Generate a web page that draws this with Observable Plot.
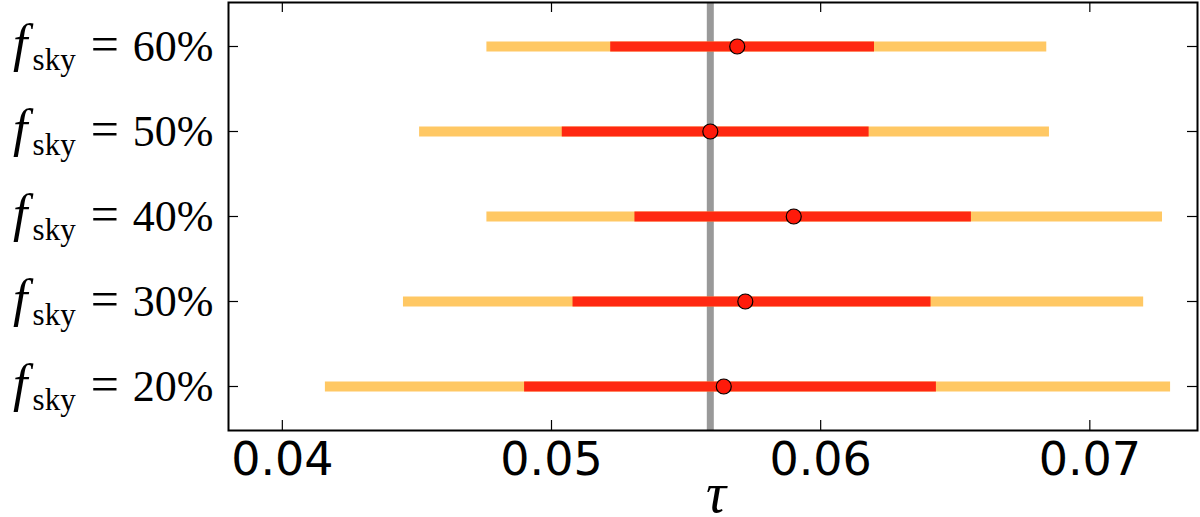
<!DOCTYPE html>
<html>
<head>
<meta charset="utf-8">
<script src="https://cdn.jsdelivr.net/npm/d3@7"></script>
<script src="https://cdn.jsdelivr.net/npm/@observablehq/plot@0.6"></script>
<style>
  html, body { margin: 0; padding: 0; background: #fff; }
</style>
</head>
<body>
<div id="chart"></div>
<script>
// ---- data ----
const skyFractions = ["60%", "50%", "40%", "30%", "20%"];
const tauBest      = [0.0569, 0.0559, 0.0590, 0.0572, 0.0564];
const tauLo68      = [0.0522, 0.0504, 0.0531, 0.0508, 0.0490];
const tauHi68      = [0.0620, 0.0618, 0.0656, 0.0641, 0.0643];
const tauLo95      = [0.0476, 0.0451, 0.0476, 0.0445, 0.0416];
const tauHi95      = [0.0684, 0.0685, 0.0727, 0.0720, 0.0730];
const tauFiducial  = [0.0559];
const xTickValues  = [0.04, 0.05, 0.06, 0.07];

const rows = skyFractions.map((f, i) => ({
  f, best: tauBest[i], lo68: tauLo68[i], hi68: tauHi68[i], lo95: tauLo95[i], hi95: tauHi95[i]
}));

const W = 1200, H = 517;
const mL = 228, mR = 3, mT = 2, mB = 87;
const innerH = H - mT - mB, innerW = W - mL - mR;
const tickLen = 10;

const chart = Plot.plot({
  width: W, height: H,
  marginLeft: mL, marginRight: mR, marginTop: mT, marginBottom: mB,
  style: { background: "#fff", color: "#000" },
  x: { domain: [0.038, 0.074] },
  y: { type: "point", domain: skyFractions, padding: 0.5 },
  marks: [
    Plot.ruleX(tauFiducial, { stroke: "#999999", strokeWidth: 7 }),
    Plot.ruleY(rows, { y: "f", x1: "lo95", x2: "hi95", stroke: "#ffc864", strokeWidth: 10 }),
    Plot.ruleY(rows, { y: "f", x1: "lo68", x2: "hi68", stroke: "#ff1a0a", strokeOpacity: 0.92, strokeWidth: 10 }),
    Plot.dot(rows, { x: "best", y: "f", r: 7.5, fill: "#ff1a0a", stroke: "#000", strokeWidth: 1.2 }),
    // inward ticks on all four sides
    Plot.tickX(xTickValues, { x: d => d, stroke: "#000", strokeWidth: 1.2, insetTop: innerH - tickLen }),
    Plot.tickX(xTickValues, { x: d => d, stroke: "#000", strokeWidth: 1.2, insetBottom: innerH - tickLen }),
    Plot.tickY(skyFractions, { y: d => d, stroke: "#000", strokeWidth: 1.2, insetRight: innerW - tickLen }),
    Plot.tickY(skyFractions, { y: d => d, stroke: "#000", strokeWidth: 1.2, insetLeft: innerW - tickLen }),
    Plot.axisX({
      ticks: xTickValues, tickSize: 0, tickPadding: 12, tickFormat: d3.format(".2f"),
      fontSize: 46, fontFamily: "DejaVu Sans",
      label: "τ", labelAnchor: "center", labelArrow: "none", labelOffset: 81
    }),
    Plot.axisY({
      tickSize: 0, tickPadding: 15, tickFormat: d => d,
      fontSize: 44, fontFamily: "Liberation Serif", label: null
    }),
    Plot.frame({ stroke: "#000", strokeWidth: 2 })
  ]
});

// math-style labels: f_sky = NN%
d3.select(chart).selectAll('g[aria-label="y-axis tick label"] text').each(function () {
  const t = d3.select(this);
  const v = t.text();
  t.text(null);
  t.append("tspan").attr("font-style", "italic").attr("font-size", "52px").text("f");
  t.append("tspan").attr("font-size", "31px").attr("dy", "9").attr("dx", "5").text("sky");
  t.append("tspan").attr("font-size", "50px").attr("dy", "-9").attr("dx", "15").text("=");
  t.append("tspan").attr("dx", "14").text(v);
});
d3.select(chart).selectAll('g[aria-label="x-axis label"] text')
  .attr("font-family", "Liberation Serif").attr("font-style", "italic").attr("font-size", "56")
  .attr("dx", 3);

document.getElementById("chart").appendChild(chart);
</script>
</body>
</html>
